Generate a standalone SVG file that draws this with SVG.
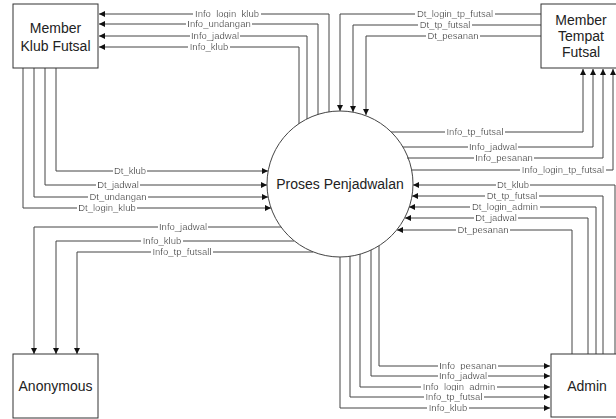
<svg xmlns="http://www.w3.org/2000/svg" width="616" height="419" viewBox="0 0 616 419">
<style>
.box{fill:#fff;stroke:#333;stroke-width:1}
.nt{font-family:"Liberation Sans",Arial,sans-serif;font-size:14px;fill:#222;text-anchor:middle}
.c{fill:none;stroke:#444;stroke-width:1;marker-end:url(#ah)}
.lb{font-family:"Liberation Sans",Arial,sans-serif;font-size:9.5px;fill:#333;text-anchor:middle;filter:url(#bg)}
</style>
<defs>
<marker id="ah" viewBox="0 0 6 6" refX="6" refY="3" markerWidth="6" markerHeight="6" markerUnits="userSpaceOnUse" orient="auto">
<path d="M0,0 L6,3 L0,6 z" fill="#111"/>
</marker>
<filter id="bg" x="-0.02" y="0" width="1.04" height="1">
<feFlood flood-color="#fff"/>
<feComposite in="SourceGraphic" operator="over"/>
</filter>
</defs>
<rect width="616" height="419" fill="#fff"/>
<g id="connectors">
<path class="c" d="M329,112 V14 H99"/>
<path class="c" d="M318,115 V24 H99"/>
<path class="c" d="M307,119 V36 H99"/>
<path class="c" d="M299,124 V47 H99"/>
<path class="c" d="M541,14 H340 V111"/>
<path class="c" d="M541,25 H353 V112"/>
<path class="c" d="M541,36 H366 V115"/>
<path class="c" d="M391,132 H583 V69"/>
<path class="c" d="M403,147 H593 V69"/>
<path class="c" d="M407,158 H603 V69"/>
<path class="c" d="M411,170 H613 V69"/>
<path class="c" d="M615,354 V185 H413"/>
<path class="c" d="M603,354 V196 H412"/>
<path class="c" d="M596,354 V207 H409"/>
<path class="c" d="M588,354 V218 H405"/>
<path class="c" d="M572,354 V230 H397"/>
<path class="c" d="M379,246 V366 H550"/>
<path class="c" d="M371,250 V376 H550"/>
<path class="c" d="M360,254 V387 H550"/>
<path class="c" d="M350,256 V397 H550"/>
<path class="c" d="M340,257 V408 H550"/>
<path class="c" d="M56,68 V171 H268"/>
<path class="c" d="M45,68 V185 H267"/>
<path class="c" d="M34,68 V197 H268"/>
<path class="c" d="M23,68 V208 H271"/>
<path class="c" d="M281,227 H34 V354"/>
<path class="c" d="M294,241 H56 V354"/>
<path class="c" d="M313,252 H77 V354"/>
<g class="labels">
<text class="lb" x="227" y="17">Info_login_klub</text>
<text class="lb" x="219" y="27">Info_undangan</text>
<text class="lb" x="215" y="39">Info_jadwal</text>
<text class="lb" x="209" y="50">Info_klub</text>
<text class="lb" x="455" y="17">Dt_login_tp_futsal</text>
<text class="lb" x="445" y="28">Dt_tp_futsal</text>
<text class="lb" x="453" y="39">Dt_pesanan</text>
<text class="lb" x="475" y="135">Info_tp_futsal</text>
<text class="lb" x="493" y="150">Info_jadwal</text>
<text class="lb" x="504" y="161">Info_pesanan</text>
<text class="lb" x="563" y="173">Info_login_tp_futsal</text>
<text class="lb" x="513" y="188">Dt_klub</text>
<text class="lb" x="512" y="199">Dt_tp_futsal</text>
<text class="lb" x="505" y="210">Dt_login_admin</text>
<text class="lb" x="496" y="221">Dt_jadwal</text>
<text class="lb" x="483" y="233">Dt_pesanan</text>
<text class="lb" x="468" y="369">Info_pesanan</text>
<text class="lb" x="463" y="379">Info_jadwal</text>
<text class="lb" x="459" y="390">Info_login_admin</text>
<text class="lb" x="454" y="400">Info_tp_futsal</text>
<text class="lb" x="448" y="411">Info_klub</text>
<text class="lb" x="130" y="174">Dt_klub</text>
<text class="lb" x="118" y="188">Dt_jadwal</text>
<text class="lb" x="118" y="200">Dt_undangan</text>
<text class="lb" x="107" y="211">Dt_login_klub</text>
<text class="lb" x="183" y="230">Info_jadwal</text>
<text class="lb" x="162" y="244">Info_klub</text>
<text class="lb" x="182" y="255">Info_tp_futsall</text>
</g>
</g>
<g id="proses">
<circle cx="340" cy="184" r="73" fill="none" stroke="#444" stroke-width="1"/>
<text class="nt" x="340" y="189">Proses Penjadwalan</text>
</g>
<g id="member-klub">
<rect class="box" x="13" y="4" width="85" height="64"/>
<text class="nt" x="55.5" y="33">Member</text>
<text class="nt" x="55.5" y="51">Klub Futsal</text>
</g>
<g id="member-tempat">
<rect class="box" x="541" y="4" width="80" height="64"/>
<text class="nt" x="581" y="25">Member</text>
<text class="nt" x="581" y="41">Tempat</text>
<text class="nt" x="581" y="57">Futsal</text>
</g>
<g id="anonymous">
<rect class="box" x="13" y="354" width="85" height="64"/>
<text class="nt" x="55.5" y="391">Anonymous</text>
</g>
<g id="admin">
<rect class="box" x="551" y="354" width="72" height="63"/>
<text class="nt" x="587" y="391">Admin</text>
</g>
</svg>
